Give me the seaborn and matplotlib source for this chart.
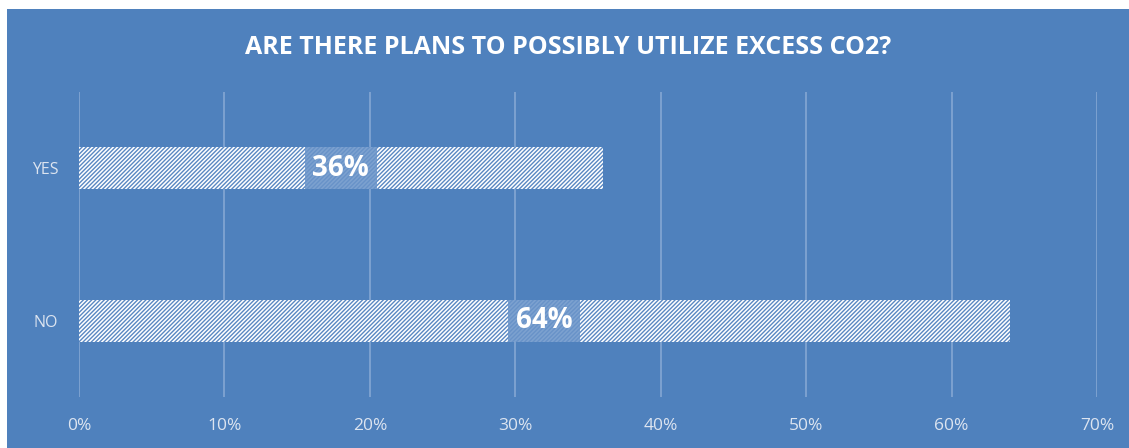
import pandas as pd
import matplotlib.pyplot as plt
import seaborn as sns
from matplotlib.patches import Rectangle

# Chart data
answers = ["YES", "NO"]
shares = [36, 64]
ticks = [0, 10, 20, 30, 40, 50, 60, 70]

df = pd.DataFrame({"Answer": answers, "Share": shares})

blue = "#4F81BD"
bar_h = 0.275
sns.set_style("white")
plt.rcParams["font.family"] = ["Open Sans", "DejaVu Sans"]
plt.rcParams["hatch.linewidth"] = 1.0

fig = plt.figure(figsize=(11.29, 4.48), dpi=100)
fig.patch.set_facecolor("white")
fig.patches.append(Rectangle((7 / 1129, 0), 1, 1 - 9 / 448, transform=fig.transFigure,
                             facecolor=blue, edgecolor="none", zorder=-5))

ax = fig.add_axes([79 / 1129, 51 / 448, (1097 - 79) / 1129, (397 - 92) / 448])
ax.set_facecolor(blue)

sns.barplot(data=df, x="Share", y="Answer", orient="h", width=bar_h,
            color="white", ax=ax, zorder=3)

for bar in ax.patches:
    bar.set_facecolor("white")
    bar.set_edgecolor("#5A88C2")
    bar.set_linewidth(0)
    bar.set_hatch("////////")

# Data labels with translucent box spanning the bar height
for i, v in enumerate(shares):
    ax.add_patch(Rectangle((v / 2 - 2.47, i - bar_h / 2), 4.94, bar_h,
                           facecolor="#6A94C9", edgecolor="none", alpha=0.88, zorder=4))
    ax.text(v / 2, i, f"{v}%", ha="center", va="center", color="white",
            fontsize=20, fontweight="bold", zorder=5)

ax.set_xlim(0, 70)
ax.set_ylim(1.5, -0.5)
ax.set_xticks(ticks)
ax.set_xticklabels([f"{t}%" for t in ticks], color="#DCE4F0", fontsize=12.5)
ax.set_yticks(range(len(answers)))
ax.set_yticklabels(answers, color="#DCE4F0", fontsize=11.5)
ax.tick_params(axis="both", length=0)
ax.tick_params(axis="x", pad=15)
ax.tick_params(axis="y", pad=15)
ax.grid(axis="x", color="#84A7D3", linewidth=1.2, zorder=0)
ax.set_axisbelow(True)
for s in ax.spines.values():
    s.set_visible(False)
ax.set_xlabel("")
ax.set_ylabel("")

fig.text(568 / 1129, 1 - 47 / 448, "ARE THERE PLANS TO POSSIBLY UTILIZE EXCESS CO2?",
         ha="center", va="center", color="white", fontsize=18, fontweight="bold")

fig.savefig("out.png", dpi=100, facecolor="white")
